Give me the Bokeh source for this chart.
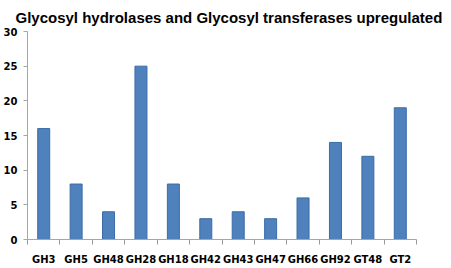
from bokeh.plotting import figure
from bokeh.models import FixedTicker, Range1d, ColumnDataSource
from bokeh.embed import file_html
from bokeh.resources import INLINE

title_text = "Glycosyl hydrolases and Glycosyl transferases upregulated"
categories = ["GH3", "GH5", "GH48", "GH28", "GH18", "GH42", "GH43", "GH47", "GH66", "GH92", "GT48", "GT2"]
values = [16, 8, 4, 25, 8, 3, 4, 3, 6, 14, 12, 19]
y_ticks = [0, 5, 10, 15, 20, 25, 30]

xpos = [i + 0.5 for i in range(len(categories))]
src = ColumnDataSource(dict(x=xpos, top=values, cat=categories))

p = figure(width=448, height=267, output_backend="svg", toolbar_location=None,
           x_range=Range1d(0, len(categories)), y_range=Range1d(0, 30),
           title=title_text,
           min_border_left=27, min_border_right=32, min_border_top=31, min_border_bottom=27)

p.vbar(x="x", top="top", bottom=0, width=0.37, source=src,
       fill_color="#4F81BD", line_color="#3B6CA6", line_width=1)

p.title.text_font = "Liberation Sans"
p.title.text_font_size = "15px"
p.title.text_font_style = "bold"
p.title.align = "left"
p.title.offset = -12
p.title.standoff = 11
p.title.text_color = "#000000"

p.grid.visible = False
p.outline_line_color = None

xa = p.xaxis[0]
xa.ticker = FixedTicker(ticks=xpos, minor_ticks=list(range(len(categories) + 1)))
xa.major_label_overrides = {x: c for x, c in zip(xpos, categories)}
xa.major_tick_line_color = None
xa.major_tick_out = 0
xa.major_tick_in = 0
xa.minor_tick_out = 5
xa.minor_tick_in = 0
xa.minor_tick_line_color = "#999999"
xa.minor_tick_line_width = 1
xa.axis_line_color = "#A6A6A6"
xa.major_label_text_font = "DejaVu Sans"
xa.major_label_text_font_style = "bold"
xa.major_label_text_font_size = "10px"
xa.major_label_standoff = 9
xa.major_label_text_color = "#000000"

ya = p.yaxis[0]
ya.ticker = FixedTicker(ticks=y_ticks)
ya.minor_tick_line_color = None
ya.major_tick_out = 4
ya.major_tick_in = 0
ya.major_tick_line_color = "#A6A6A6"
ya.axis_line_color = "#A6A6A6"
ya.major_label_text_font = "DejaVu Sans"
ya.major_label_text_font_style = "bold"
ya.major_label_text_font_size = "10px"
ya.major_label_standoff = 6
ya.major_label_text_color = "#000000"

open("out.html", "w").write(file_html(p, INLINE))
